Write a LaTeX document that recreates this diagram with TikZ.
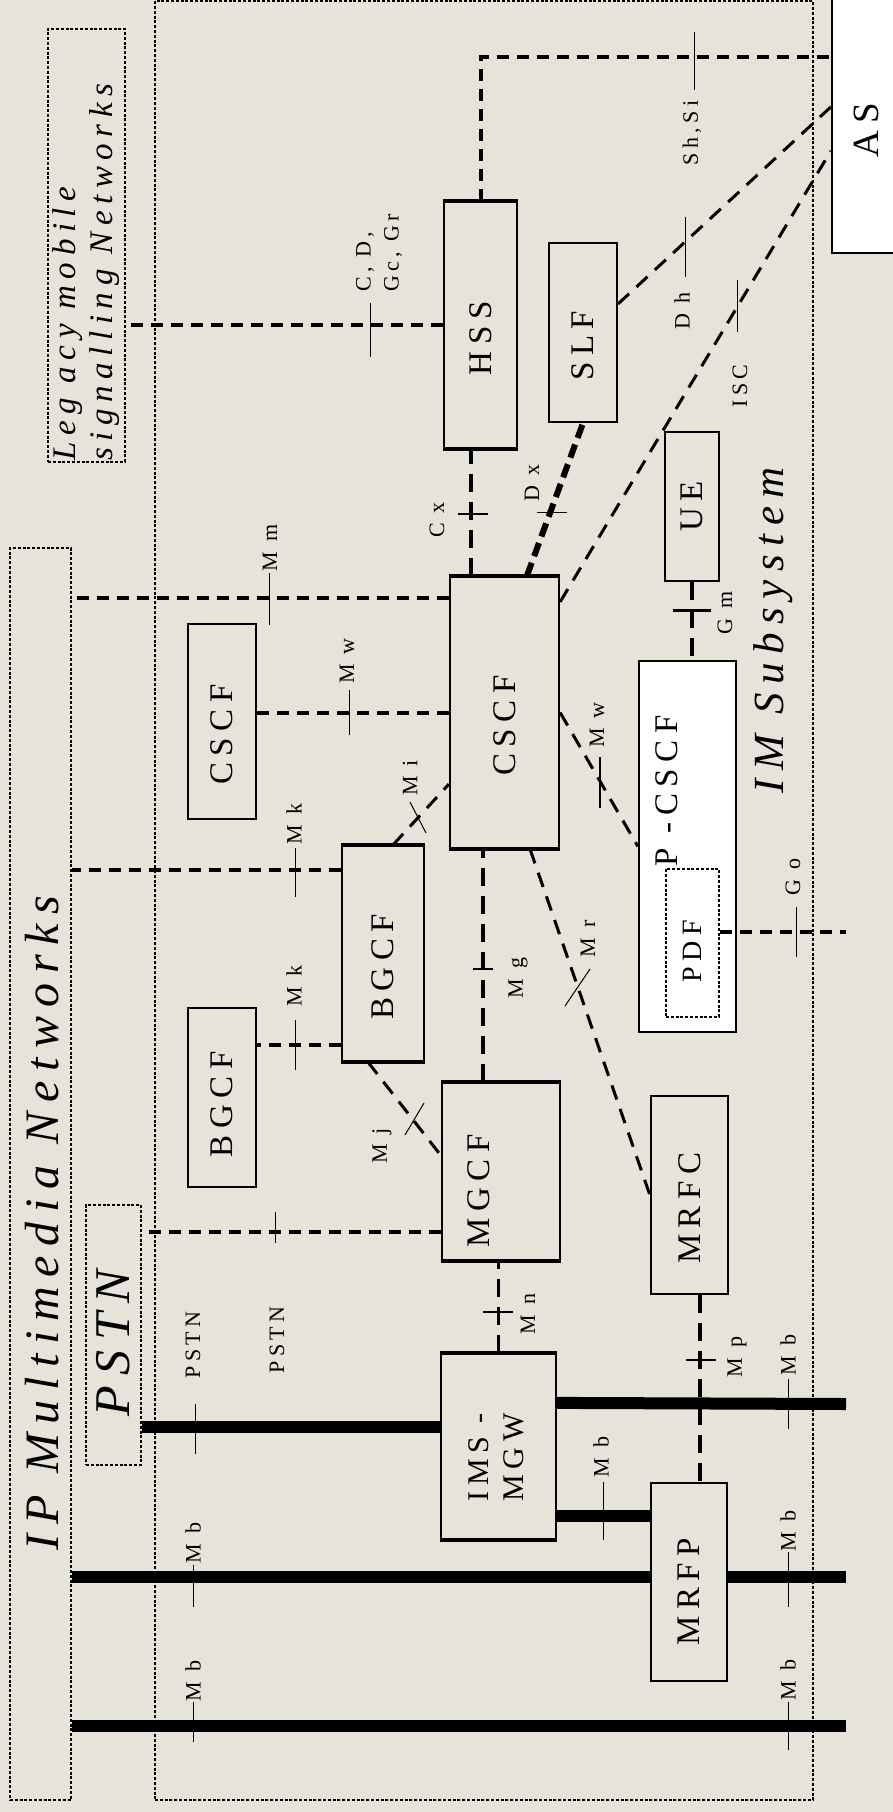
\documentclass[tikz,border=0pt]{standalone}
\usepackage{fontspec}
\setmainfont{Liberation Serif}[LetterSpace=20]
\usetikzlibrary{calc}

\definecolor{paper}{RGB}{229,227,218}
\newcommand{\vt}[1]{\rotatebox{90}{#1}}
\newcommand{\vk}[2][.8em]{\rotatebox{90}{#2\kern#1}}
\newcommand{\vtt}[1]{\rotatebox{90}{\begin{tabular}{@{}l@{}}#1\end{tabular}}}

\tikzset{
  box/.style={draw, line width=2.2, fill=paper, inner sep=0pt, font=\fontsize{33}{38}\selectfont},
  frame/.style={draw, line width=2.8, dash pattern=on 3 off 1.8},
  sig/.style={line width=4, dash pattern=on 12 off 8},
  sigv/.style={line width=3.5, dash pattern=on 18 off 10},
  sigt/.style={line width=3, dash pattern=on 15 off 10},
  bus/.style={line width=12},
  tick/.style={line width=1},
  lbl/.style={inner sep=0pt, font=\fontsize{22}{28}\selectfont},
  title/.style={inner sep=0pt, font=\fontsize{48}{56}\selectfont\itshape},
}

\begin{document}
\begin{tikzpicture}[x=1pt, y=-1pt]
  \useasboundingbox (0,0) rectangle (893,1812);
  \fill[paper] (0,0) rectangle (893,1812);

  % outer regions
  \node[frame, minimum width=658, minimum height=1799] (imsframe) at (484,900.5) {};
  \node[frame, minimum width=61, minimum height=1252] (ipnet) at (40.5,1174) {};
  \node[frame, minimum width=77, minimum height=433] (legacy) at (86.5,245.5) {};
  \node[frame, minimum width=55, minimum height=260] (pstn) at (113.5,1335) {};
  \node[title] (tipnet) at (42,1223) {\vt{IP Multimedia Networks}};
  \node[title, font=\fontsize{50}{56}\selectfont\itshape] (tpstn) at (113,1343) {\vt{PSTN}};
  \node[title, font=\fontsize{33}{37}\selectfont\itshape, anchor=south] (tlegacy) at (87,461) {\vtt{Leg acy mobile\\signalling Networks}};
  \node[title, font=\fontsize{43}{50}\selectfont\itshape] (tims) at (773,630) {\vt{IM Subsystem}};

  % functions
  \node[box, fill=white, minimum width=68, minimum height=258, font=\fontsize{37}{42}\selectfont] (as) at (866,124) {\vk[.35em]{AS}};
  \node[box, minimum width=73, minimum height=246] (hss) at (480.5,325) {\vk{HSS}};
  \node[box, minimum width=68, minimum height=179] (slf) at (583,332.5) {\vk{SLF}};
  \node[box, minimum width=54, minimum height=149] (ue) at (692,506.5) {\vt{UE}};
  \node[box, minimum width=109, minimum height=271] (cscf) at (504.5,712.5) {\vk{CSCF}};
  \node[box, minimum width=68, minimum height=195] (cscfL) at (222,721.5) {\vk{CSCF}};
  \node[box, fill=white, minimum width=97, minimum height=371] (pcscf) at (687.5,846.5) {};
  \node[frame, minimum width=53, minimum height=148, font=\fontsize{28}{32}\selectfont] (pdf) at (692.5,943) {\vk[.6em]{PDF}};
  \node[inner sep=0pt, font=\fontsize{33}{38}\selectfont] (tpcscf) at (667,791) {\vt{P -CSCF}};
  \node[box, minimum width=82, minimum height=215] (bgcfM) at (383,953.5) {\vk{BGCF}};
  \node[box, minimum width=68, minimum height=179] (bgcfL) at (222,1097.5) {\vk[.4em]{BGCF}};
  \node[box, minimum width=118, minimum height=177] (mgcf) at (501,1171.5) {};
  \node[inner sep=0pt, font=\fontsize{33}{38}\selectfont] (tmgcf) at (479,1191) {\vt{MGCF}};
  \node[box, minimum width=115, minimum height=185, font=\fontsize{30}{35}\selectfont] (imsmgw) at (498.5,1446.5) {\rotatebox{90}{\begin{tabular}{@{}l@{}}IMS -\\MGW\end{tabular}\kern22pt}};
  \node[box, minimum width=77, minimum height=198] (mrfc) at (689.5,1195) {\vk{MRFC}};
  \node[box, minimum width=76, minimum height=198] (mrfp) at (689,1582) {\vk[.6em]{MRFP}};
  \foreach \n in {hss,cscf,bgcfM,mgcf,imsmgw}
    \draw[line width=4.5] (\n.north west) -- (\n.north east) (\n.south west) -- (\n.south east);

  % attachment points
  \coordinate (pSh) at ($(as.north west)+(3,63)$);
  \coordinate (pCx) at ($(cscf.north west)+(22,0)$);
  \coordinate (pDx) at ($(cscf.north west)+(78,0)$);
  \coordinate (pDh) at ($(slf.north east)+(0,62)$);
  \coordinate (qDh) at ($(as.north west)+(0,113)$);
  \coordinate (pIsc) at ($(cscf.north east)+(0,26)$);
  \coordinate (qIsc) at ($(as.north west)+(0,157)$);
  \coordinate (pMm) at ($(cscf.north west)+(0,22)$);
  \coordinate (pMi) at ($(bgcfM.north)+(10,0)$);
  \coordinate (qMi) at ($(cscf.south west)+(0,-65)$);
  \coordinate (pMkA) at ($(bgcfM.north west)+(0,25)$);
  \coordinate (pMkB) at ($(bgcfM.south west)+(0,-17)$);
  \coordinate (pMj) at ($(bgcfM.south)+(-15,0)$);
  \coordinate (qMj) at ($(mgcf.west)+(0,-16)$);
  \coordinate (pMg) at ($(mgcf.north)+(-18,0)$);
  \coordinate (pMr) at ($(cscf.south)+(25.5,0)$);
  \coordinate (pPstn) at ($(mgcf.south west)+(0,-29)$);
  \coordinate (pMp) at ($(mrfc.south)+(10.5,0)$);
  \coordinate (goEnd) at (846,932);
  \coordinate (pBusP) at ($(imsmgw.north west)+(0,74)$);
  \coordinate (pBusA) at ($(imsmgw.north east)+(0,50)$);
  \coordinate (pBusM) at ($(imsmgw.south east)+(0,-24)$);
  \coordinate (pBusB) at ($(mrfp.west)+(0,-5)$);
  \coordinate (qBusB) at ($(mrfp.east)+(0,-5)$);
  \coordinate (busA) at (846,1404);
  \coordinate (busB) at (846,1577);
  \coordinate (busC) at (846,1726);

  % signalling
  \draw[sig] (hss.west) -- (hss.west -| legacy.east);
  \draw[sig] (hss.north) |- (pSh);
  \draw[sigv] (pCx) -- (pCx |- hss.south);
  \draw[line width=6, dash pattern=on 14 off 7] (pDx) -- (slf.south);
  \draw[sigt] (pDh) -- (qDh);
  \draw[sigt] (pIsc) -- (qIsc);
  \draw[sig] (pMm) -- (pMm -| ipnet.east);
  \draw[sig] (cscf.west) -- (cscf.west -| cscfL.east);
  \draw[sigt] (pMi) -- (qMi);
  \draw[sig] (pMkA) -- (pMkA -| ipnet.east);
  \draw[sig] (pMkB) -- (pMkB -| bgcfL.east);
  \draw[sigt] (pMj) -- (qMj);
  \draw[sigv] (pMg) -- (pMg |- cscf.south);
  \draw[sigt] (pMr) -- (mrfc.west);
  \draw[sigt] (cscf.east) -- (pcscf.west);
  \draw[sigv] (ue.south) -- (ue.south |- pcscf.north);
  \draw[sig] (goEnd -| pdf.east) -- (goEnd);
  \draw[sig] (pPstn) -- (pPstn -| pstn.east);
  \draw[sigv] (imsmgw.north) -- (imsmgw.north |- mgcf.south);
  \draw[sigv] (pMp) -- (pMp |- mrfp.north);

  % bearer
  \draw[bus] (pBusP) -- (pBusP -| pstn.east);
  \draw[bus] (pBusA) -- (busA);
  \draw[bus] (pBusM) -- (pBusM -| mrfp.west);
  \draw[bus] (pBusB) -- (pBusB -| ipnet.east);
  \draw[bus] (qBusB) -- (busB);
  \draw[bus] (busC) -- (busC -| ipnet.east);

  % reference point marks
  \foreach \a/\b in {{370,303}/{370,357}, {694,32}/{694,90}, {685,217}/{685,277},
      {737,280}/{737,332}, {537,512}/{567,512}, {269,573}/{269,625},
      {349,690}/{349,735}, {410,802}/{426,833}, {295,848}/{295,897},
      {295,1020}/{295,1070}, {796,907}/{796,957}, {565,1006}/{590,969},
      {405,1135}/{424,1103}, {275,1212}/{275,1243}, {195,1404}/{195,1454},
      {788,1379}/{788,1429}, {788,1552}/{788,1607}, {788,1702}/{788,1750},
      {193,1565}/{193,1607}, {193,1702}/{193,1742}, {603,1482}/{603,1540}}
    \draw[tick] (\a) -- (\b);
  \draw[line width=1.5] (458,514) -- (488,514) (473,969) -- (493,969) (483,1312) -- (513,1312);
  \draw[line width=2.5] (600,757) -- (600,808) (686,1360) -- (716,1360);
  \draw[line width=3] (673,610) -- (711,610);

  % labels
  \node[lbl, anchor=south] (lcd) at (379,292) {\vtt{C, D,\\Gc, Gr}};
  \node[lbl] (lshsi) at (692,133) {\vt{Sh,Si}};
  \node[lbl] (ldh) at (682,311) {\vt{D h}};
  \node[lbl] (lisc) at (740,386) {\vt{ISC}};
  \node[lbl] (lcx) at (437,520) {\vt{C x}};
  \node[lbl] (ldx) at (532,483) {\vt{D x}};
  \node[lbl] (lmm) at (270,548) {\vt{M m}};
  \node[lbl] (lmwL) at (347,661) {\vt{M w}};
  \node[lbl] (lmi) at (410,778) {\vt{M i}};
  \node[lbl] (lmkA) at (294,824) {\vt{M k}};
  \node[lbl] (lmkB) at (294,986) {\vt{M k}};
  \node[lbl] (lmwR) at (597,725) {\vt{M w}};
  \node[lbl] (lgm) at (725,613) {\vt{G m}};
  \node[lbl] (lgo) at (793,877) {\vt{G o}};
  \node[lbl] (lmg) at (518,978) {\vt{M g}};
  \node[lbl] (lmr) at (588,939) {\vt{M r}};
  \node[lbl] (lmj) at (382,1146) {\vt{M j}};
  \node[lbl] (lmn) at (528,1314) {\vt{M n}};
  \node[lbl] (lmp) at (737,1357) {\vt{M p}};
  \node[lbl] (lpstnA) at (193,1345) {\vt{PSTN}};
  \node[lbl] (lpstnB) at (277,1340) {\vt{PSTN}};
  \node[lbl] (lmbR1) at (788,1355) {\vt{M b}};
  \node[lbl] (lmbR2) at (788,1531) {\vt{M b}};
  \node[lbl] (lmbR3) at (788,1680) {\vt{M b}};
  \node[lbl] (lmbL1) at (193,1543) {\vt{M b}};
  \node[lbl] (lmbL2) at (193,1681) {\vt{M b}};
  \node[lbl] (lmbM) at (601,1457) {\vt{M b}};
\end{tikzpicture}
\end{document}
